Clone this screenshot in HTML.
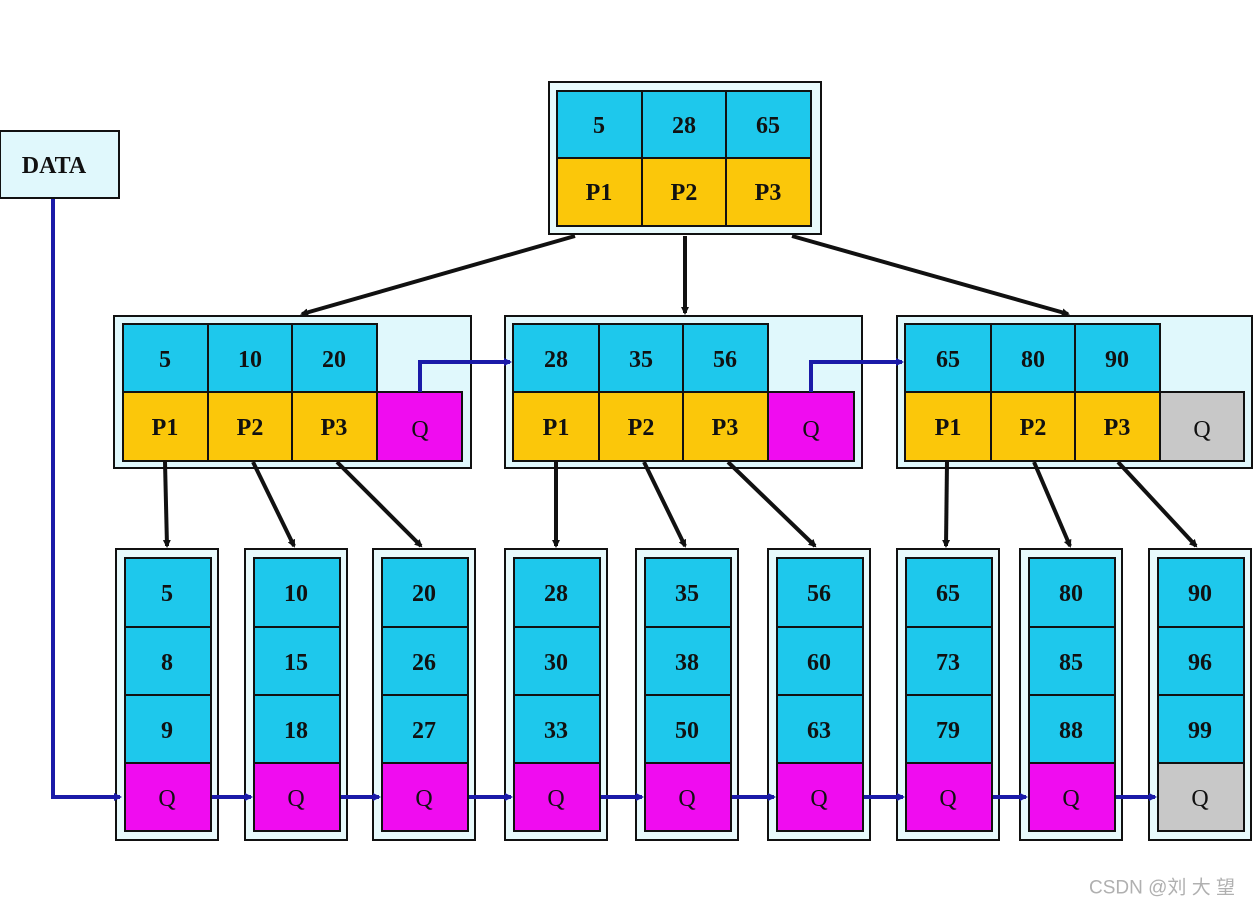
<!DOCTYPE html>
<html><head><style>
body{margin:0;background:#fff;}
svg text{font-family:"Liberation Serif",serif;font-weight:bold;font-size:24px;fill:#111;text-anchor:middle;dominant-baseline:central;}
</style></head><body>
<svg width="1257" height="910" xmlns="http://www.w3.org/2000/svg">
<defs>
<marker id="ab" markerWidth="8" markerHeight="8" refX="6" refY="4" orient="auto" markerUnits="userSpaceOnUse" viewBox="0 0 8 8"><path d="M0,0 L8,4 L0,8z" fill="#111"/></marker>
<marker id="bb" markerWidth="8" markerHeight="8" refX="6" refY="4" orient="auto" markerUnits="userSpaceOnUse" viewBox="0 0 8 8"><path d="M0,0 L8,4 L0,8z" fill="#1a1aa8"/></marker>
</defs>
<g stroke="#111" stroke-width="2">
<!-- root -->
<rect x="549" y="82" width="272" height="152" fill="#e8fafc"/>
<rect x="557" y="91" width="85" height="67" fill="#1ec8ec"/><rect x="642" y="91" width="84" height="67" fill="#1ec8ec"/><rect x="726" y="91" width="85" height="67" fill="#1ec8ec"/>
<rect x="557" y="158" width="85" height="68" fill="#fbc70a"/><rect x="642" y="158" width="84" height="68" fill="#fbc70a"/><rect x="726" y="158" width="85" height="68" fill="#fbc70a"/>
<!-- DATA -->
<rect x="0" y="131" width="119" height="67" fill="#e0f8fc"/>
</g>
<g stroke="#111" stroke-width="2" id="mids">
<rect x="114" y="316" width="357" height="152" fill="#e0f8fc"/>
<rect x="123" y="324" width="85" height="68" fill="#1ec8ec"/><rect x="208" y="324" width="84" height="68" fill="#1ec8ec"/><rect x="292" y="324" width="85" height="68" fill="#1ec8ec"/>
<rect x="123" y="392" width="85" height="69" fill="#fbc70a"/><rect x="208" y="392" width="84" height="69" fill="#fbc70a"/><rect x="292" y="392" width="85" height="69" fill="#fbc70a"/><rect x="377" y="392" width="85" height="69" fill="#f00cf0"/>
<rect x="505" y="316" width="357" height="152" fill="#e0f8fc"/>
<rect x="513" y="324" width="86" height="68" fill="#1ec8ec"/><rect x="599" y="324" width="84" height="68" fill="#1ec8ec"/><rect x="683" y="324" width="85" height="68" fill="#1ec8ec"/>
<rect x="513" y="392" width="86" height="69" fill="#fbc70a"/><rect x="599" y="392" width="84" height="69" fill="#fbc70a"/><rect x="683" y="392" width="85" height="69" fill="#fbc70a"/><rect x="768" y="392" width="86" height="69" fill="#f00cf0"/>
<rect x="897" y="316" width="355" height="152" fill="#e0f8fc"/>
<rect x="905" y="324" width="86" height="68" fill="#1ec8ec"/><rect x="991" y="324" width="84" height="68" fill="#1ec8ec"/><rect x="1075" y="324" width="85" height="68" fill="#1ec8ec"/>
<rect x="905" y="392" width="86" height="69" fill="#fbc70a"/><rect x="991" y="392" width="84" height="69" fill="#fbc70a"/><rect x="1075" y="392" width="85" height="69" fill="#fbc70a"/><rect x="1160" y="392" width="84" height="69" fill="#c8c8c8"/>
</g>
<g stroke="#111" stroke-width="2">
<!-- leaves generated -->
<g transform="translate(116,0)"><rect x="0" y="549" width="102" height="291" fill="#e8fafc"/><rect x="9" y="558" width="86" height="69" fill="#1ec8ec"/><rect x="9" y="627" width="86" height="68" fill="#1ec8ec"/><rect x="9" y="695" width="86" height="68" fill="#1ec8ec"/><rect x="9" y="763" width="86" height="68" fill="#f00cf0"/></g>
<g transform="translate(245,0)"><rect x="0" y="549" width="102" height="291" fill="#e8fafc"/><rect x="9" y="558" width="86" height="69" fill="#1ec8ec"/><rect x="9" y="627" width="86" height="68" fill="#1ec8ec"/><rect x="9" y="695" width="86" height="68" fill="#1ec8ec"/><rect x="9" y="763" width="86" height="68" fill="#f00cf0"/></g>
<g transform="translate(373,0)"><rect x="0" y="549" width="102" height="291" fill="#e8fafc"/><rect x="9" y="558" width="86" height="69" fill="#1ec8ec"/><rect x="9" y="627" width="86" height="68" fill="#1ec8ec"/><rect x="9" y="695" width="86" height="68" fill="#1ec8ec"/><rect x="9" y="763" width="86" height="68" fill="#f00cf0"/></g>
<g transform="translate(505,0)"><rect x="0" y="549" width="102" height="291" fill="#e8fafc"/><rect x="9" y="558" width="86" height="69" fill="#1ec8ec"/><rect x="9" y="627" width="86" height="68" fill="#1ec8ec"/><rect x="9" y="695" width="86" height="68" fill="#1ec8ec"/><rect x="9" y="763" width="86" height="68" fill="#f00cf0"/></g>
<g transform="translate(636,0)"><rect x="0" y="549" width="102" height="291" fill="#e8fafc"/><rect x="9" y="558" width="86" height="69" fill="#1ec8ec"/><rect x="9" y="627" width="86" height="68" fill="#1ec8ec"/><rect x="9" y="695" width="86" height="68" fill="#1ec8ec"/><rect x="9" y="763" width="86" height="68" fill="#f00cf0"/></g>
<g transform="translate(768,0)"><rect x="0" y="549" width="102" height="291" fill="#e8fafc"/><rect x="9" y="558" width="86" height="69" fill="#1ec8ec"/><rect x="9" y="627" width="86" height="68" fill="#1ec8ec"/><rect x="9" y="695" width="86" height="68" fill="#1ec8ec"/><rect x="9" y="763" width="86" height="68" fill="#f00cf0"/></g>
<g transform="translate(897,0)"><rect x="0" y="549" width="102" height="291" fill="#e8fafc"/><rect x="9" y="558" width="86" height="69" fill="#1ec8ec"/><rect x="9" y="627" width="86" height="68" fill="#1ec8ec"/><rect x="9" y="695" width="86" height="68" fill="#1ec8ec"/><rect x="9" y="763" width="86" height="68" fill="#f00cf0"/></g>
<g transform="translate(1020,0)"><rect x="0" y="549" width="102" height="291" fill="#e8fafc"/><rect x="9" y="558" width="86" height="69" fill="#1ec8ec"/><rect x="9" y="627" width="86" height="68" fill="#1ec8ec"/><rect x="9" y="695" width="86" height="68" fill="#1ec8ec"/><rect x="9" y="763" width="86" height="68" fill="#f00cf0"/></g>
<g transform="translate(1149,0)"><rect x="0" y="549" width="102" height="291" fill="#e8fafc"/><rect x="9" y="558" width="86" height="69" fill="#1ec8ec"/><rect x="9" y="627" width="86" height="68" fill="#1ec8ec"/><rect x="9" y="695" width="86" height="68" fill="#1ec8ec"/><rect x="9" y="763" width="86" height="68" fill="#c8c8c8"/></g>
</g>
<!-- black arrows -->
<g stroke="#111" stroke-width="4" fill="none" marker-end="url(#ab)">
<line x1="575" y1="236" x2="302" y2="314"/>
<line x1="685" y1="236" x2="685" y2="313"/>
<line x1="792" y1="236" x2="1068" y2="314"/>
<line x1="165" y1="462" x2="167" y2="546"/>
<line x1="253" y1="462" x2="294" y2="546"/>
<line x1="337" y1="462" x2="421" y2="546"/>
<line x1="556" y1="462" x2="556" y2="546"/>
<line x1="644" y1="462" x2="685" y2="546"/>
<line x1="728" y1="462" x2="815" y2="546"/>
<line x1="947" y1="462" x2="946" y2="546"/>
<line x1="1034" y1="462" x2="1070" y2="546"/>
<line x1="1118" y1="462" x2="1196" y2="546"/>
</g>
<!-- blue connectors -->
<g stroke="#1a1aa8" stroke-width="4" fill="none" marker-end="url(#bb)">
<polyline points="53,199 53,797 120,797"/>
<polyline points="420,392 420,362 510,362"/>
<polyline points="811,392 811,362 902,362"/>
<line x1="212" y1="797" x2="251" y2="797"/>
<line x1="341" y1="797" x2="379" y2="797"/>
<line x1="469" y1="797" x2="511" y2="797"/>
<line x1="601" y1="797" x2="642" y2="797"/>
<line x1="732" y1="797" x2="774" y2="797"/>
<line x1="864" y1="797" x2="903" y2="797"/>
<line x1="993" y1="797" x2="1026" y2="797"/>
<line x1="1116" y1="797" x2="1155" y2="797"/>
</g>
<!-- text -->
<text x="599" y="126">5</text><text x="684" y="126">28</text><text x="768" y="126">65</text>
<text x="599" y="193">P1</text><text x="684" y="193">P2</text><text x="768" y="193">P3</text>
<text x="54" y="166">DATA</text>
<text x="165" y="360">5</text><text x="250" y="360">10</text><text x="334" y="360">20</text>
<text x="165" y="428">P1</text><text x="250" y="428">P2</text><text x="334" y="428">P3</text><text x="420" y="430" style="font-weight:normal">Q</text>
<text x="556" y="360">28</text><text x="641" y="360">35</text><text x="725" y="360">56</text>
<text x="556" y="428">P1</text><text x="641" y="428">P2</text><text x="725" y="428">P3</text><text x="811" y="430" style="font-weight:normal">Q</text>
<text x="948" y="360">65</text><text x="1033" y="360">80</text><text x="1117" y="360">90</text>
<text x="948" y="428">P1</text><text x="1033" y="428">P2</text><text x="1117" y="428">P3</text><text x="1202" y="430" style="font-weight:normal">Q</text>
<g>
<text x="167" y="594">5</text><text x="167" y="663">8</text><text x="167" y="731">9</text><text x="167" y="799" style="font-weight:normal">Q</text>
<text x="296" y="594">10</text><text x="296" y="663">15</text><text x="296" y="731">18</text><text x="296" y="799" style="font-weight:normal">Q</text>
<text x="424" y="594">20</text><text x="424" y="663">26</text><text x="424" y="731">27</text><text x="424" y="799" style="font-weight:normal">Q</text>
<text x="556" y="594">28</text><text x="556" y="663">30</text><text x="556" y="731">33</text><text x="556" y="799" style="font-weight:normal">Q</text>
<text x="687" y="594">35</text><text x="687" y="663">38</text><text x="687" y="731">50</text><text x="687" y="799" style="font-weight:normal">Q</text>
<text x="819" y="594">56</text><text x="819" y="663">60</text><text x="819" y="731">63</text><text x="819" y="799" style="font-weight:normal">Q</text>
<text x="948" y="594">65</text><text x="948" y="663">73</text><text x="948" y="731">79</text><text x="948" y="799" style="font-weight:normal">Q</text>
<text x="1071" y="594">80</text><text x="1071" y="663">85</text><text x="1071" y="731">88</text><text x="1071" y="799" style="font-weight:normal">Q</text>
<text x="1200" y="594">90</text><text x="1200" y="663">96</text><text x="1200" y="731">99</text><text x="1200" y="799" style="font-weight:normal">Q</text>
</g>
<text x="1162" y="888" style="font-family:'Liberation Sans','Noto Sans CJK SC',sans-serif;font-weight:normal;font-size:19px;fill:#b0b0b0">CSDN @刘 大 望</text>
</svg>
</body></html>
